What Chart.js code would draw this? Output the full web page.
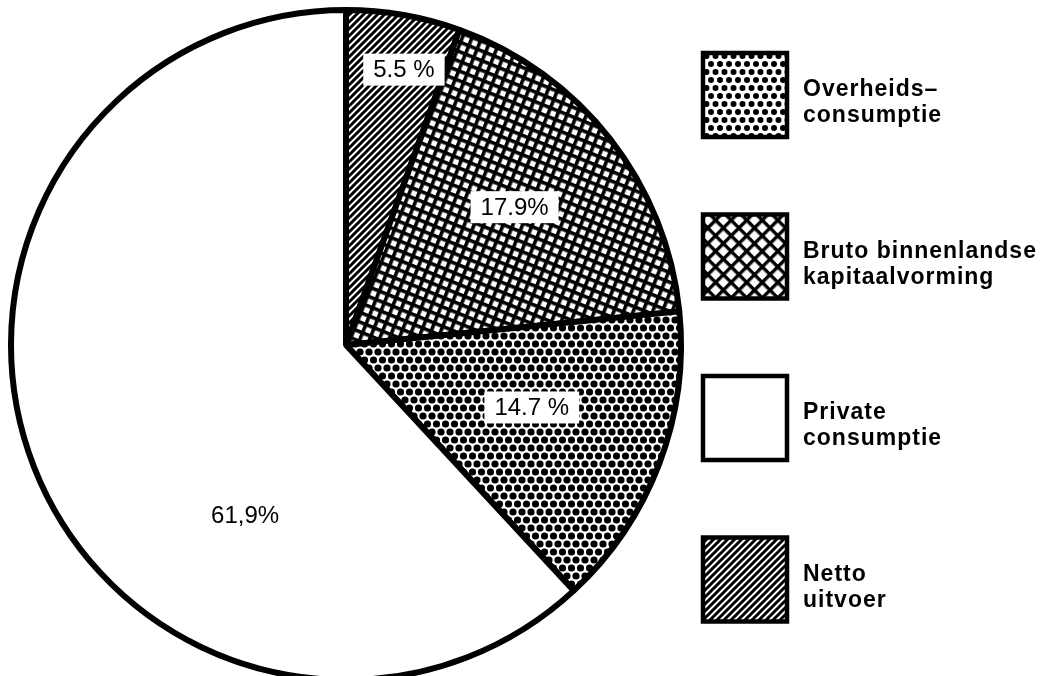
<!DOCTYPE html>
<html>
<head>
<meta charset="utf-8">
<script src="https://cdn.jsdelivr.net/npm/chart.js@4.4.0/dist/chart.umd.min.js"></script>
<style>
  html, body { margin: 0; padding: 0; background: #fff; overflow: hidden; }
  canvas { display: block; }
</style>
</head>
<body>
<canvas id="pie" width="1055" height="676"></canvas>
<script>
// slices, clockwise from 12 o'clock
const categories = [
  ["Netto", "uitvoer"],
  ["Bruto binnenlandse", "kapitaalvorming"],
  ["Overheids–", "consumptie"],
  ["Private", "consumptie"],
];
const shares = [5.5, 17.9, 14.7, 61.9];
const shareLabels = ["5.5 %", "17.9%", "14.7 %", "61,9%"];
// order of the boxes in the key, top to bottom
const legendOrder = [2, 1, 3, 0];

// where the percentage sits inside its slice (fraction of the sweep, fraction of the radius)
const labelAlong = [0.6, 0.48, 0.46, 0.33];
const labelDepth = [0.84, 0.65, 0.585, 0.59];

function makeTile(w, h, draw) {
  const c = document.createElement("canvas");
  c.width = w;
  c.height = h;
  const g = c.getContext("2d");
  g.fillStyle = "#fff";
  g.fillRect(0, 0, w, h);
  g.fillStyle = "#000";
  g.strokeStyle = "#000";
  draw(g, w, h);
  return c;
}

function hatch(ctx, size, lw) {
  const tile = makeTile(size, size, (g, w) => {
    g.lineWidth = lw;
    g.beginPath();
    g.moveTo(-1, w + 1); g.lineTo(w + 1, -1);
    g.moveTo(-2, 2); g.lineTo(2, -2);
    g.moveTo(w - 2, w + 2); g.lineTo(w + 2, w - 2);
    g.stroke();
  });
  return ctx.createPattern(tile, "repeat");
}

function grid(ctx, size, lw, angle) {
  const tile = makeTile(size, size, (g, w) => {
    g.fillRect(0, 0, w, lw);
    g.fillRect(0, 0, lw, w);
  });
  const p = ctx.createPattern(tile, "repeat");
  p.setTransform(new DOMMatrix().rotate(angle));
  return p;
}

function dots(ctx, step, r) {
  const h = Math.round(step * Math.sqrt(3));
  const tile = makeTile(step, h, (g, w, hh) => {
    [[0, 0], [w, 0], [0, hh], [w, hh], [w / 2, hh / 2]].forEach(([x, y]) => {
      g.beginPath();
      g.arc(x, y, r, 0, Math.PI * 2);
      g.fill();
    });
  });
  return ctx.createPattern(tile, "repeat");
}

const ctx = document.getElementById("pie").getContext("2d");
const pieFills = [hatch(ctx, 7, 3), grid(ctx, 9, 3.6, 22), dots(ctx, 9, 3.6), "#fff"];
const keyFills = [hatch(ctx, 7, 3), grid(ctx, 11, 3.4, 45), dots(ctx, 9, 3), "#fff"];

const sliceLabels = {
  id: "sliceLabels",
  afterDatasetsDraw(chart) {
    const c = chart.ctx;
    const meta = chart.getDatasetMeta(0);
    c.save();
    c.font = "24px 'Liberation Sans', Arial, sans-serif";
    c.textAlign = "center";
    c.textBaseline = "middle";
    meta.data.forEach((arc, i) => {
      const { x, y, startAngle, endAngle, outerRadius } =
        arc.getProps(["x", "y", "startAngle", "endAngle", "outerRadius"], true);
      const a = startAngle + (endAngle - startAngle) * labelAlong[i];
      const r = outerRadius * labelDepth[i];
      const px = x + Math.cos(a) * r;
      const py = y + Math.sin(a) * r;
      const w = c.measureText(shareLabels[i]).width + 20;
      c.fillStyle = "#fff";
      c.fillRect(px - w / 2, py - 16, w, 32);
      c.fillStyle = "#000";
      c.fillText(shareLabels[i], px, py + 1);
    });
    c.restore();
  },
};

const patternKey = {
  id: "patternKey",
  afterDraw(chart) {
    const c = chart.ctx;
    c.save();
    legendOrder.forEach((i, k) => {
      const top = 53 + k * 161.5;
      c.fillStyle = keyFills[i];
      c.fillRect(703, top, 84, 84);
      c.lineWidth = 4.5;
      c.strokeStyle = "#000";
      c.strokeRect(703, top, 84, 84);
      c.fillStyle = "#000";
      c.font = "bold 23px 'Liberation Sans', Arial, sans-serif";
      c.letterSpacing = "1px";
      c.textAlign = "left";
      c.textBaseline = "alphabetic";
      const mid = top + 42;
      c.fillText(categories[i][0], 803, mid + 1);
      c.fillText(categories[i][1], 803, mid + 27);
    });
    c.restore();
  },
};

new Chart(ctx, {
  type: "pie",
  data: {
    labels: categories.map((l) => l.join(" ")),
    datasets: [{
      data: shares,
      backgroundColor: pieFills,
      borderColor: "#000",
      borderWidth: 6,
      radius: 335,
    }],
  },
  options: {
    responsive: false,
    animation: false,
    events: [],
    layout: { padding: { left: 0, right: 363, top: 14, bottom: 0 } },
    plugins: {
      legend: { display: false },
      tooltip: { enabled: false },
    },
  },
  plugins: [sliceLabels, patternKey],
});
</script>
</body>
</html>
